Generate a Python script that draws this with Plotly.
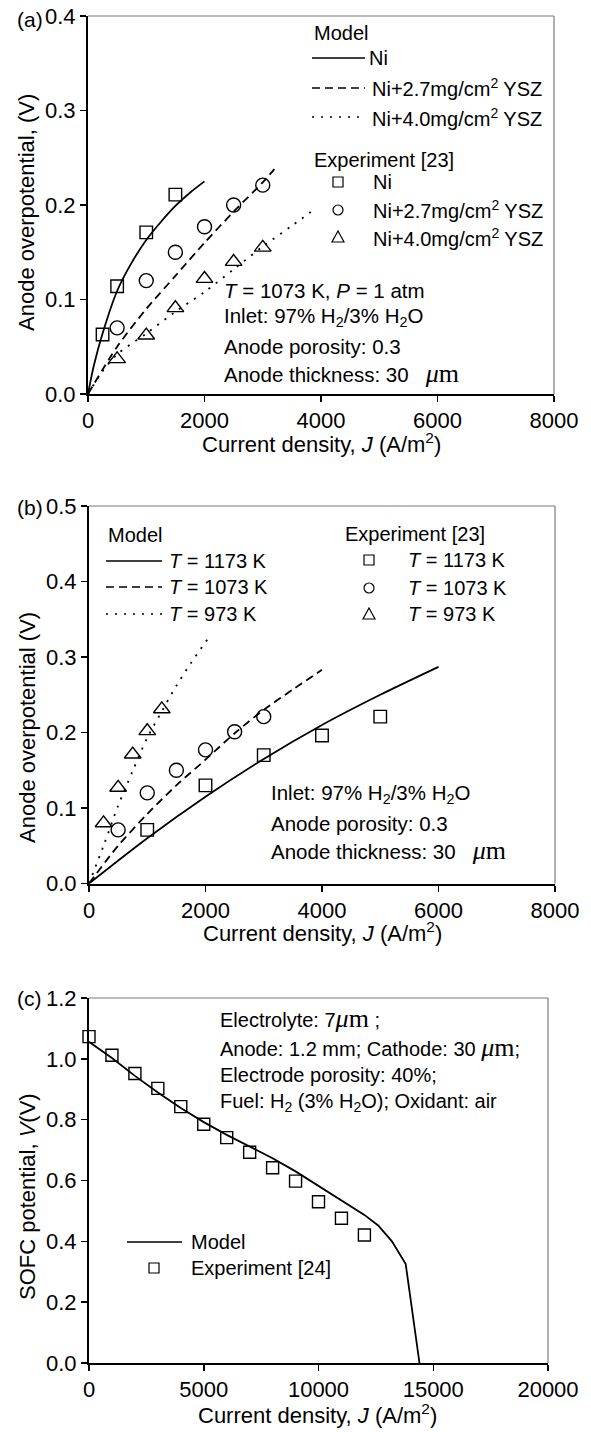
import plotly.graph_objects as go

# ---------------- data ----------------
# Panel (a): anode overpotential vs current density, 1073 K
a_J_ni_exp = [250, 500, 1000, 1500]
a_ni_exp = [0.063, 0.114, 0.171, 0.211]
a_J_27_exp = [500, 1000, 1500, 2000, 2500, 3000]
a_27_exp = [0.070, 0.120, 0.150, 0.177, 0.200, 0.221]
a_J_40_exp = [500, 1000, 1500, 2000, 2500, 3000]
a_40_exp = [0.037, 0.062, 0.091, 0.122, 0.140, 0.155]
a_J_ni_model = [0, 100, 250, 500, 750, 1000, 1250, 1500, 1750, 2000]
a_ni_model = [0, 0.030, 0.064, 0.109, 0.139, 0.163, 0.182, 0.199, 0.213, 0.225]
a_J_27_model = [0, 500, 1000, 1500, 2000, 2500, 3000, 3200]
a_27_model = [0, 0.050, 0.090, 0.125, 0.160, 0.193, 0.224, 0.238]
a_J_40_model = [0, 250, 500, 1000, 1500, 2000, 2500, 3000, 3500, 3900]
a_40_model = [0, 0.024, 0.042, 0.064, 0.087, 0.108, 0.132, 0.156, 0.178, 0.196]

# Panel (b): temperature effect
b_J_1173_exp = [1000, 2000, 3000, 4000, 5000]
b_1173_exp = [0.071, 0.130, 0.170, 0.196, 0.221]
b_J_1073_exp = [500, 1000, 1500, 2000, 2500, 3000]
b_1073_exp = [0.071, 0.120, 0.150, 0.177, 0.201, 0.221]
b_J_973_exp = [250, 500, 750, 1000, 1250]
b_973_exp = [0.080, 0.127, 0.171, 0.202, 0.231]
b_J_1173_model = [0, 1000, 2000, 3000, 4000, 5000, 6000]
b_1173_model = [0, 0.060, 0.115, 0.165, 0.210, 0.250, 0.287]
b_J_1073_model = [0, 500, 1000, 1500, 2000, 2500, 3000, 3500, 4000]
b_1073_model = [0, 0.050, 0.092, 0.130, 0.164, 0.199, 0.230, 0.257, 0.283]
b_J_973_model = [0, 250, 500, 750, 1000, 1250, 1500, 1750, 2030]
b_973_model = [0, 0.050, 0.103, 0.149, 0.193, 0.228, 0.262, 0.292, 0.323]

# Panel (c): SOFC polarization curve
c_J_exp = [0, 1000, 2000, 3000, 4000, 5000, 6000, 7000, 8000, 9000, 10000, 11000, 12000]
c_V_exp = [1.073, 1.012, 0.952, 0.903, 0.843, 0.785, 0.741, 0.693, 0.642, 0.598, 0.530, 0.476, 0.421]
c_J_model = [0, 1000, 2000, 3000, 4000, 5000, 6000, 7000, 8000, 9000, 10000, 11000,
             12000, 12600, 13200, 13800, 14400]
c_V_model = [1.056, 1.003, 0.944, 0.889, 0.838, 0.792, 0.750, 0.711, 0.673, 0.630, 0.583, 0.535,
             0.487, 0.452, 0.400, 0.325, 0.0]

a_yticks = [0.0, 0.1, 0.2, 0.3, 0.4]
b_yticks = [0.0, 0.1, 0.2, 0.3, 0.4, 0.5]
c_yticks = [0.0, 0.2, 0.4, 0.6, 0.8, 1.0, 1.2]
ab_xticks = [0, 2000, 4000, 6000, 8000]
c_xticks = [0, 5000, 10000, 15000, 20000]

# ---------------- layout helpers ----------------
W, H = 591, 1432


def px(x):
    return x / W


def py(y):
    return 1 - y / H


FONT = "Liberation Sans, Arial, Helvetica, sans-serif"
MU = "<span style='font-family:Liberation Serif, Times New Roman, serif;font-size:26px'><i>μ</i>m</span>"
XTITLE = "Current density, <i>J</i> (A/m<sup>2</sup>)"
NB = "\u00a0"

DASH = "8px,5px"
DOT = "2px,7px"

fig = go.Figure()


def add_line(x, y, dash, n, shape="spline"):
    fig.add_trace(go.Scatter(
        x=x, y=y, mode="lines", showlegend=False, hoverinfo="skip",
        line=dict(color="black", width=1.8, dash=dash, shape=shape, smoothing=0.8),
        xaxis="x" + ("" if n == 1 else str(n)), yaxis="y" + ("" if n == 1 else str(n))))


def add_markers(x, y, symbol, size, n):
    fig.add_trace(go.Scatter(
        x=x, y=y, mode="markers", showlegend=False, hoverinfo="skip", cliponaxis=False,
        marker=dict(symbol=symbol, size=size, color="black", line=dict(color="black", width=1.4)),
        xaxis="x" + ("" if n == 1 else str(n)), yaxis="y" + ("" if n == 1 else str(n))))


# panel (a)
add_line(a_J_ni_model, a_ni_model, "solid", 1)
add_line(a_J_27_model, a_27_model, DASH, 1)
add_line(a_J_40_model, a_40_model, DOT, 1)
add_markers(a_J_ni_exp, a_ni_exp, "square-open", 12.5, 1)
add_markers(a_J_27_exp, a_27_exp, "circle-open", 14, 1)
add_markers(a_J_40_exp, a_40_exp, "triangle-up-open", 14.5, 1)

# panel (b)
add_line(b_J_1173_model, b_1173_model, "solid", 2)
add_line(b_J_1073_model, b_1073_model, DASH, 2)
add_line(b_J_973_model, b_973_model, DOT, 2)
add_markers(b_J_1173_exp, b_1173_exp, "square-open", 12.5, 2)
add_markers(b_J_1073_exp, b_1073_exp, "circle-open", 14, 2)
add_markers(b_J_973_exp, b_973_exp, "triangle-up-open", 14.5, 2)

# panel (c)
add_line(c_J_model, c_V_model, "solid", 3, shape="linear")
add_markers(c_J_exp, c_V_exp, "square-open", 12, 3)

# axes
panels = {
    1: dict(x=(88, 554), y=(16, 394), xr=[0, 8000], yr=[0, 0.4], xt=ab_xticks, yt=a_yticks),
    2: dict(x=(89, 555), y=(506, 883.5), xr=[0, 8000], yr=[0, 0.5], xt=ab_xticks, yt=b_yticks),
    3: dict(x=(89, 548), y=(998, 1363), xr=[0, 20000], yr=[0, 1.2], xt=c_xticks, yt=c_yticks),
}

axis_common = dict(showgrid=False, zeroline=False, showline=True, linecolor="black", linewidth=2,
                   ticks="outside", ticklen=6, tickwidth=1.5, tickcolor="black", automargin=False,
                   tickfont=dict(family=FONT, size=22, color="black"), fixedrange=True)

layout_axes = {}
shapes = []
for n, p in panels.items():
    sx = "" if n == 1 else str(n)
    layout_axes["xaxis" + sx] = dict(
        axis_common, domain=[px(p["x"][0]), px(p["x"][1])], range=p["xr"],
        tickvals=p["xt"], ticktext=[str(v) for v in p["xt"]], anchor="y" + sx)
    layout_axes["yaxis" + sx] = dict(
        axis_common, domain=[py(p["y"][1]), py(p["y"][0])], range=p["yr"],
        tickvals=p["yt"], ticktext=["%.1f" % v for v in p["yt"]], anchor="x" + sx)
    # thin grey top and right frame
    shapes.append(dict(type="line", xref="x%s domain" % sx, yref="y%s domain" % sx,
                       x0=0, x1=1, y0=1, y1=1, line=dict(color="#7a7a7a", width=1.2)))
    shapes.append(dict(type="line", xref="x%s domain" % sx, yref="y%s domain" % sx,
                       x0=1, x1=1, y0=0, y1=1, line=dict(color="#7a7a7a", width=1.2)))

annotations = []


def txt(x, y, text, size=20, xanchor="left", angle=0):
    annotations.append(dict(x=px(x), y=py(y), xref="paper", yref="paper", text=text,
                            showarrow=False, xanchor=xanchor, yanchor="middle",
                            textangle=angle, font=dict(family=FONT, size=size, color="black")))


def seg(x0, x1, y, dash):
    shapes.append(dict(type="line", xref="paper", yref="paper", x0=px(x0), x1=px(x1),
                       y0=py(y), y1=py(y), line=dict(color="black", width=1.6, dash=dash)))


def sym(kind, x, y, s=10):
    h = s / 2
    if kind == "square":
        shapes.append(dict(type="rect", xref="paper", yref="paper", x0=px(x - h), x1=px(x + h),
                           y0=py(y + h), y1=py(y - h), line=dict(color="black", width=1.2)))
    elif kind == "circle":
        shapes.append(dict(type="circle", xref="paper", yref="paper", x0=px(x - h), x1=px(x + h),
                           y0=py(y + h), y1=py(y - h), line=dict(color="black", width=1.2)))
    else:
        path = "M %f,%f L %f,%f L %f,%f Z" % (px(x - 6), py(y + 5), px(x + 6), py(y + 5), px(x), py(y - 6))
        shapes.append(dict(type="path", xref="paper", yref="paper", path=path,
                           line=dict(color="black", width=1.2)))


THICK = "Anode thickness: 30" + NB + NB + NB + MU

# ----- panel (a) texts -----
txt(15, 19, "(a)", 21)
txt(312, 33, "Model")
seg(312, 365, 58, "solid")
txt(367, 58, "Ni")
seg(312, 365, 88, DASH)
txt(370, 88, "Ni+2.7mg/cm<sup>2</sup> YSZ")
seg(312, 365, 117, DOT)
txt(370, 117, "Ni+4.0mg/cm<sup>2</sup> YSZ")
txt(312, 160, "Experiment [23]")
sym("square", 338, 182)
txt(371, 182, "Ni")
sym("circle", 338, 210)
txt(371, 210, "Ni+2.7mg/cm<sup>2</sup> YSZ")
sym("triangle", 338, 237)
txt(371, 237, "Ni+4.0mg/cm<sup>2</sup> YSZ")
txt(222, 290, "<i>T</i> = 1073 K, <i>P</i> = 1 atm", 20.5)
txt(222, 317, "Inlet: 97% H<sub>2</sub>/3% H<sub>2</sub>O", 20.5)
txt(222, 346, "Anode porosity: 0.3", 20.5)
txt(222, 373, THICK, 20.5)
txt(27, 213, "Anode overpotential, (V)", 22, "center", -90)
txt(321, 443, XTITLE, 22, "center")

# ----- panel (b) texts -----
txt(15, 507, "(b)", 21)
txt(106, 535, "Model")
seg(106, 162, 561, "solid")
txt(167, 561, "<i>T</i> = 1173 K")
seg(106, 162, 587, DASH)
txt(167, 587, "<i>T</i> = 1073 K")
seg(106, 162, 614, DOT)
txt(167, 614, "<i>T</i> = 973 K")
txt(343, 534, "Experiment [23]")
sym("square", 369, 560)
txt(406, 560, "<i>T</i> = 1173 K")
sym("circle", 369, 588)
txt(406, 588, "<i>T</i> = 1073 K")
sym("triangle", 369, 614)
txt(406, 614, "<i>T</i> = 973 K")
txt(269, 794, "Inlet: 97% H<sub>2</sub>/3% H<sub>2</sub>O", 20.5)
txt(269, 823, "Anode porosity: 0.3", 20.5)
txt(269, 850, THICK, 20.5)
txt(27, 728, "Anode overpotential (V)", 22, "center", -90)
txt(322, 932, XTITLE, 22, "center")

# ----- panel (c) texts -----
txt(15, 998, "(c)", 21)
txt(218, 1018, "Electrolyte: 7" + MU + NB + ";")
txt(218, 1047, "Anode: 1.2 mm; Cathode: 30" + NB + MU + ";")
txt(218, 1075, "Electrode porosity: 40%;")
txt(218, 1102, "Fuel: H<sub>2</sub> (3% H<sub>2</sub>O); Oxidant: air")
seg(127, 182, 1242, "solid")
txt(189, 1242, "Model")
sym("square", 154, 1268)
txt(189, 1268, "Experiment [24]")
txt(27, 1197, "SOFC potential, <i>V</i>(V)", 22, "center", -90)
txt(318, 1414, XTITLE, 22, "center")

fig.update_layout(
    template="none",
    width=W, height=H, autosize=False,
    margin=dict(l=0, r=0, t=0, b=0, pad=0),
    paper_bgcolor="white", plot_bgcolor="white",
    font=dict(family=FONT, size=20, color="black"),
    showlegend=False,
    shapes=shapes, annotations=annotations,
    **layout_axes,
)

# remove the browser's default 8px page margin so the figure sits at the page origin
fig.write_html("out.html", config={"displayModeBar": False, "staticPlot": True},
               post_script="document.body.style.margin='0px';")
